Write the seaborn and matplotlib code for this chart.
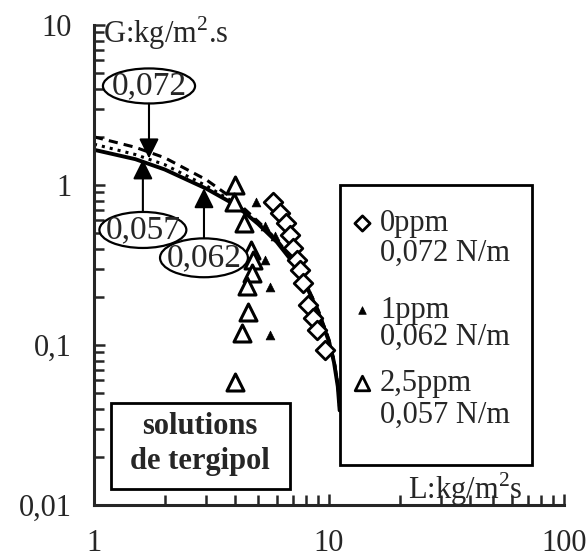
import matplotlib
matplotlib.use("Agg")
import matplotlib.pyplot as plt
import seaborn as sns
from matplotlib.patches import Ellipse, Rectangle
from matplotlib.ticker import NullFormatter

# measured points, L (kg/m2s) vs G (kg/m2s)
L_0ppm = [5.78, 6.19, 6.56, 6.82, 7.03, 7.31, 7.53, 7.75, 8.14, 8.55, 8.89, 9.61]
G_0ppm = [0.783, 0.668, 0.579, 0.487, 0.404, 0.340, 0.294, 0.244, 0.178, 0.148, 0.124, 0.093]

L_1ppm = [4.89, 5.34, 5.89, 5.34, 5.61, 5.61]
G_1ppm = [0.783, 0.555, 0.48, 0.340, 0.230, 0.1155]

L_25ppm = [3.98, 3.94, 4.35, 4.66, 4.75, 4.70, 4.48, 4.52, 4.26, 3.98]
G_25ppm = [1.0, 0.783, 0.579, 0.392, 0.340, 0.282, 0.234, 0.161, 0.119, 0.0588]

# model curves
L_curve = [1.0, 1.5, 2.0, 3.0, 4.0, 5.0, 6.0, 7.0, 8.0, 9.0, 10.0, 10.5, 10.9, 11.1]
G_solid = [1.66, 1.45, 1.25, 0.95, 0.75, 0.57, 0.44, 0.33, 0.235, 0.16, 0.105, 0.078, 0.055, 0.039]
G_dotted = [1.80, 1.55, 1.34, 0.99, 0.77, 0.58, 0.45, 0.335, 0.24, 0.163, 0.107, 0.08, 0.057, 0.040]
G_dashed = [2.0, 1.72, 1.48, 1.08, 0.80, 0.59, 0.455, 0.34, 0.24, 0.165, 0.108, 0.08, 0.057, 0.040]

x_ticks = [1, 10, 100]
x_ticklabels = ["1", "10", "100"]
y_ticks = [0.01, 0.1, 1, 10]
y_ticklabels = ["0,01", "0,1", "1", "10"]

legend_labels = [("0ppm", "0,072 N/m"), ("1ppm", "0,062 N/m"), ("2,5ppm", "0,057 N/m")]

sns.set_style("ticks")
plt.rcParams["font.family"] = ["Liberation Serif", "DejaVu Serif"]
plt.rcParams["mathtext.fontset"] = "custom"
plt.rcParams["mathtext.rm"] = "Liberation Serif"

fig = plt.figure(figsize=(5.87, 5.6), dpi=100)
ax = fig.add_axes([94 / 587, 55 / 560, 470 / 587, 480 / 560])
ax.set_xscale("log")
ax.set_yscale("log")

sns.lineplot(x=L_curve, y=G_solid, color="black", lw=2.8, sort=False, ax=ax)
sns.lineplot(x=L_curve, y=G_dotted, color="black", lw=2.2, ls=":", sort=False, ax=ax)
sns.lineplot(x=L_curve, y=G_dashed, color="black", lw=2.2, sort=False, ax=ax)
ax.lines[-1].set_linestyle((0, (3, 2)))

sns.scatterplot(x=L_0ppm, y=G_0ppm, marker="D", s=90, color="white",
                edgecolor="black", linewidth=2, ax=ax, zorder=3)
sns.scatterplot(x=L_1ppm, y=G_1ppm, marker="^", s=40, color="black",
                edgecolor="black", linewidth=0.5, ax=ax, zorder=3)
sns.scatterplot(x=L_25ppm, y=G_25ppm, marker="^", s=150, color="white",
                edgecolor="black", linewidth=2.2, ax=ax, zorder=3)

ax.set_xlim(1, 100)
ax.set_ylim(0.01, 10)
ax.set_xticks(x_ticks)
ax.set_xticklabels(x_ticklabels)
ax.set_yticks(y_ticks)
ax.set_yticklabels(y_ticklabels)
ax.xaxis.set_minor_formatter(NullFormatter())
ax.yaxis.set_minor_formatter(NullFormatter())
ax.tick_params(which="both", direction="in", width=1.8, labelsize=22)
ax.tick_params(which="major", length=8)
ax.tick_params(which="minor", length=7)
ax.tick_params(axis="x", which="major", pad=17)
ax.tick_params(axis="y", which="major", pad=16)
sns.despine(ax=ax)
for s in ["left", "bottom"]:
    ax.spines[s].set_linewidth(2.2)
ax.set_xlabel("")
ax.set_ylabel("")

# axis titles
ax.text(0.019, 0.983, r"G:kg/m$^{\mathregular{2}}$.s", transform=ax.transAxes,
        fontsize=22, ha="left", va="center")
ax.text(0.668, 0.012, r"L:kg/m$^{\mathregular{2}}$s", transform=ax.transAxes,
        fontsize=22, ha="left", va="baseline")

# surface tension callouts
callouts = [("0,072", (0.117, 0.873), 0.196, 0.073, (0.117, 0.836), (0.117, 0.722)),
            ("0,057", (0.104, 0.573), 0.185, 0.075, (0.104, 0.611), (0.104, 0.720)),
            ("0,062", (0.234, 0.515), 0.187, 0.081, (0.234, 0.556), (0.234, 0.660))]
for txt, c, w, h, start, tip in callouts:
    ax.add_patch(Ellipse(c, w, h, transform=ax.transAxes, facecolor="white",
                         edgecolor="black", lw=1.6, clip_on=False, zorder=5))
    ax.text(c[0], c[1], txt, transform=ax.transAxes, fontsize=24,
            ha="center", va="center", zorder=6)
    ax.annotate("", xy=tip, xycoords="axes fraction", xytext=start,
                textcoords="axes fraction",
                arrowprops=dict(arrowstyle="-|>", mutation_scale=30, lw=1.5,
                                color="black", shrinkA=0, shrinkB=0), zorder=6)

# legend box
ax.add_patch(Rectangle((0.523, 0.083), 0.409, 0.584, transform=ax.transAxes,
                       facecolor="white", edgecolor="black", lw=2, zorder=4))
leg_markers = [dict(marker="D", s=60, color="white", edgecolor="black", linewidth=2),
               dict(marker="^", s=30, color="black", edgecolor="black", linewidth=0.5),
               dict(marker="^", s=110, color="white", edgecolor="black", linewidth=2)]
leg_y = [(0.5875, 0.525), (0.406, 0.35), (0.254, 0.1875)]
for (l1, l2), mk, (y1, y2) in zip(legend_labels, leg_markers, leg_y):
    ax.scatter([0.570], [y1], transform=ax.transAxes, zorder=5, clip_on=False, **mk)
    ax.text(0.6085, y1, l1, transform=ax.transAxes, fontsize=22, ha="left",
            va="center", zorder=5)
    ax.text(0.6085, y2, l2, transform=ax.transAxes, fontsize=22, ha="left",
            va="center", zorder=5)

# solutions box
ax.add_patch(Rectangle((0.036, 0.033), 0.381, 0.18, transform=ax.transAxes,
                       facecolor="white", edgecolor="black", lw=2, zorder=4))
ax.text(0.2255, 0.1625, "solutions", transform=ax.transAxes, fontsize=22,
        fontweight="bold", ha="center", va="center", zorder=5)
ax.text(0.2255, 0.0896, "de tergipol", transform=ax.transAxes, fontsize=22,
        fontweight="bold", ha="center", va="center", zorder=5)

fig.savefig("out.png", dpi=100)
